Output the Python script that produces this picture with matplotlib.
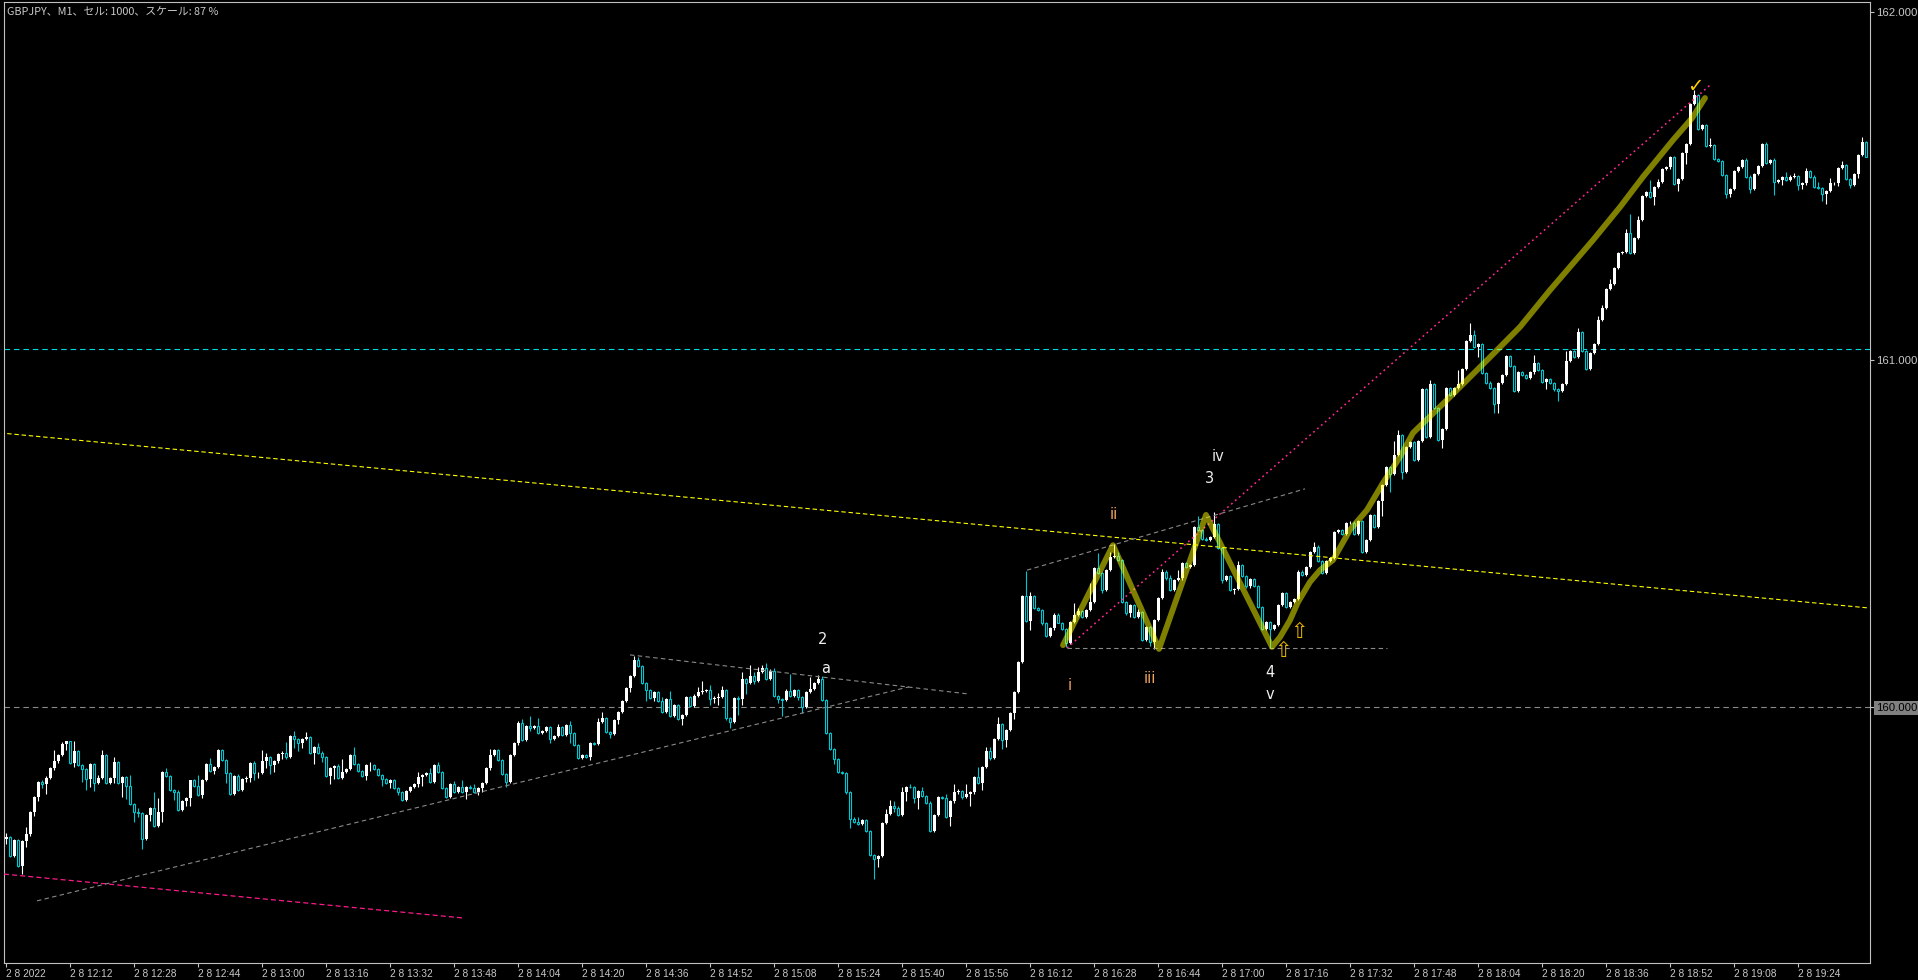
#!/usr/bin/env python3
"""
GBPJPY M1 chart with wave markup, redrawn from an MT4 screenshot.
"""
import matplotlib

matplotlib.use("Agg")
import matplotlib.pyplot as plt
import numpy as np

# close of every M1 bar, first bar 11:56
close = [
    159.625, 159.572, 159.616, 159.543, 159.614, 159.633, 159.697, 159.740, 159.784, 159.778,
    159.797, 159.823, 159.845, 159.862, 159.894, 159.901, 159.838, 159.873, 159.832, 159.821,
    159.793, 159.835, 159.780, 159.796, 159.862, 159.782, 159.795, 159.842, 159.780, 159.799,
    159.773, 159.721, 159.699, 159.694, 159.619, 159.689, 159.710, 159.658, 159.699, 159.813,
    159.802, 159.761, 159.754, 159.704, 159.730, 159.737, 159.789, 159.774, 159.747, 159.790,
    159.837, 159.817, 159.827, 159.876, 159.847, 159.809, 159.751, 159.801, 159.761, 159.793,
    159.797, 159.838, 159.809, 159.811, 159.845, 159.857, 159.833, 159.845, 159.865, 159.869,
    159.857, 159.917, 159.907, 159.897, 159.907, 159.914, 159.867, 159.885, 159.869, 159.857,
    159.801, 159.824, 159.830, 159.797, 159.814, 159.822, 159.862, 159.835, 159.817, 159.802,
    159.833, 159.834, 159.822, 159.805, 159.792, 159.782, 159.790, 159.768, 159.756, 159.732,
    159.757, 159.769, 159.778, 159.798, 159.803, 159.809, 159.783, 159.833, 159.814, 159.766,
    159.742, 159.778, 159.756, 159.769, 159.756, 159.771, 159.768, 159.756, 159.766, 159.780,
    159.823, 159.862, 159.876, 159.847, 159.808, 159.785, 159.863, 159.895, 159.954, 159.905,
    159.944, 159.941, 159.946, 159.925, 159.932, 159.942, 159.907, 159.917, 159.942, 159.920,
    159.949, 159.925, 159.890, 159.852, 159.861, 159.856, 159.895, 159.893, 159.958, 159.967,
    159.929, 159.923, 159.963, 159.985, 160.016, 160.056, 160.088, 160.136, 160.119, 160.070,
    160.049, 160.026, 160.043, 160.016, 159.985, 160.022, 159.975, 160.007, 159.965, 159.978,
    160.030, 160.002, 160.032, 160.044, 160.047, 160.048, 160.022, 160.025, 160.028, 160.048,
    159.968, 159.958, 160.025, 160.022, 160.080, 160.070, 160.090, 160.075, 160.102, 160.111,
    160.080, 160.105, 160.032, 160.022, 160.020, 160.046, 160.032, 160.048, 160.030, 160.000,
    160.043, 160.053, 160.069, 160.082, 160.020, 159.925, 159.878, 159.849, 159.813, 159.810,
    159.754, 159.679, 159.669, 159.664, 159.676, 159.644, 159.574, 159.563, 159.572, 159.667,
    159.691, 159.715, 159.708, 159.689, 159.754, 159.771, 159.769, 159.738, 159.759, 159.745,
    159.725, 159.642, 159.688, 159.740, 159.739, 159.683, 159.728, 159.754, 159.759, 159.740,
    159.749, 159.754, 159.798, 159.780, 159.827, 159.874, 159.852, 159.907, 159.952, 159.905,
    159.934, 159.983, 160.044, 160.129, 160.320, 160.248, 160.320, 160.284, 160.279, 160.241,
    160.204, 160.226, 160.265, 160.243, 160.224, 160.183, 160.245, 160.265, 160.276, 160.260,
    160.279, 160.301, 160.399, 160.385, 160.337, 160.394, 160.433, 160.435, 160.423, 160.303,
    160.270, 160.294, 160.260, 160.274, 160.193, 160.229, 160.188, 160.250, 160.313, 160.390,
    160.370, 160.337, 160.366, 160.370, 160.414, 160.404, 160.409, 160.519, 160.509, 160.485,
    160.482, 160.490, 160.526, 160.457, 160.366, 160.376, 160.337, 160.339, 160.409, 160.376,
    160.347, 160.368, 160.349, 160.289, 160.224, 160.245, 160.224, 160.236, 160.294, 160.327,
    160.289, 160.303, 160.310, 160.390, 160.380, 160.404, 160.447, 160.462, 160.419, 160.385,
    160.419, 160.428, 160.505, 160.510, 160.498, 160.529, 160.531, 160.498, 160.534, 160.447,
    160.482, 160.553, 160.519, 160.594, 160.639, 160.690, 160.670, 160.725, 160.783, 160.677,
    160.749, 160.764, 160.711, 160.767, 160.914, 160.778, 160.930, 160.860, 160.770, 160.799,
    160.917, 160.898, 160.917, 160.930, 160.973, 161.054, 161.071, 161.037, 161.044, 160.962,
    160.934, 160.917, 160.872, 160.932, 160.956, 161.010, 160.982, 160.911, 160.965, 160.956,
    160.948, 160.963, 160.989, 160.970, 160.936, 160.943, 160.932, 160.914, 160.911, 160.930,
    160.996, 161.026, 161.008, 161.080, 161.026, 160.974, 161.020, 161.045, 161.114, 161.148,
    161.202, 161.218, 161.265, 161.306, 161.310, 161.365, 161.308, 161.349, 161.402, 161.471,
    161.483, 161.469, 161.498, 161.510, 161.548, 161.553, 161.582, 161.505, 161.520, 161.594,
    161.621, 161.735, 161.762, 161.663, 161.675, 161.615, 161.618, 161.577, 161.573, 161.531,
    161.477, 161.490, 161.544, 161.555, 161.575, 161.527, 161.490, 161.533, 161.557, 161.620,
    161.567, 161.575, 161.512, 161.517, 161.525, 161.517, 161.527, 161.528, 161.503, 161.507,
    161.544, 161.527, 161.496, 161.493, 161.477, 161.486, 161.507, 161.509, 161.551, 161.560,
    161.519, 161.503, 161.534, 161.589, 161.627, 161.584,
]
open_first = 159.619

# wick length above / below the body, in points (0.001)
wick_up = [
    12, 3, 3, 3, 3, 23, 3, 3, 3, 6,
    3, 3, 30, 3, 4, 2, 2, 30, 2, 3,
    3, 3, 3, 9, 13, 2, 3, 14, 3, 3,
    3, 31, 3, 11, 3, 3, 3, 46, 40, 2,
    11, 3, 3, 7, 3, 3, 2, 3, 30, 3,
    3, 17, 3, 3, 3, 3, 3, 3, 6, 3,
    3, 3, 8, 3, 30, 10, 3, 3, 3, 3,
    31, 3, 13, 3, 3, 15, 3, 3, 11, 3,
    3, 3, 3, 6, 37, 3, 3, 22, 3, 3,
    3, 9, 3, 3, 3, 3, 3, 3, 3, 3,
    3, 3, 3, 15, 3, 3, 14, 3, 8, 3,
    3, 3, 8, 3, 20, 3, 5, 10, 3, 3,
    3, 17, 3, 3, 3, 3, 3, 3, 5, 12,
    3, 31, 3, 22, 3, 3, 3, 3, 8, 3,
    3, 10, 3, 3, 3, 3, 3, 3, 10, 19,
    3, 3, 3, 3, 3, 3, 3, 10, 8, 3,
    3, 3, 3, 3, 12, 3, 25, 3, 3, 3,
    3, 3, 5, 15, 29, 3, 14, 6, 12, 13,
    3, 3, 3, 7, 20, 3, 32, 12, 13, 10,
    16, 3, 7, 3, 3, 7, 48, 3, 3, 3,
    3, 33, 3, 10, 8, 3, 3, 3, 3, 3,
    3, 3, 3, 14, 3, 3, 3, 3, 3, 3,
    15, 18, 13, 7, 15, 3, 7, 3, 3, 12,
    3, 3, 3, 3, 3, 12, 3, 25, 5, 3,
    30, 3, 3, 30, 3, 10, 10, 3, 20, 3,
    3, 3, 3, 3, 3, 72, 10, 3, 3, 3,
    3, 3, 7, 7, 3, 3, 3, 35, 8, 3,
    3, 57, 5, 43, 3, 3, 12, 33, 10, 3,
    3, 3, 3, 8, 3, 3, 3, 3, 3, 8,
    3, 10, 3, 25, 3, 3, 3, 3, 31, 3,
    3, 3, 36, 3, 3, 3, 3, 3, 12, 3,
    3, 3, 3, 3, 3, 3, 3, 3, 3, 3,
    3, 3, 3, 3, 3, 3, 3, 12, 3, 3,
    3, 3, 3, 3, 3, 3, 3, 3, 3, 3,
    3, 3, 3, 3, 3, 3, 3, 40, 15, 3,
    3, 3, 3, 3, 3, 3, 10, 3, 3, 3,
    5, 3, 3, 40, 3, 3, 35, 15, 3, 3,
    3, 3, 3, 3, 3, 3, 3, 3, 3, 3,
    3, 3, 25, 3, 3, 3, 3, 3, 3, 3,
    30, 3, 3, 10, 3, 3, 3, 3, 12, 10,
    3, 15, 3, 3, 3, 10, 55, 3, 10, 3,
    3, 35, 3, 10, 3, 3, 3, 3, 3, 3,
    3, 3, 15, 3, 3, 3, 20, 3, 3, 3,
    3, 3, 3, 3, 3, 5, 3, 3, 3, 3,
    5, 3, 5, 3, 3, 15, 3, 10, 3, 3,
    8, 3, 3, 15, 3, 3, 15, 3, 3, 12,
    3, 3, 3, 3, 15, 3,
]
wick_dn = [
    12, 3, 3, 3, 23, 18, 3, 10, 12, 10,
    29, 3, 3, 6, 3, 19, 3, 10, 3, 37,
    33, 22, 22, 3, 3, 3, 3, 14, 3, 38,
    39, 3, 30, 11, 27, 3, 17, 3, 3, 29,
    3, 3, 21, 3, 3, 15, 21, 3, 3, 8,
    3, 3, 10, 3, 3, 28, 3, 3, 3, 3,
    8, 13, 20, 12, 3, 22, 27, 20, 5, 15,
    6, 3, 25, 23, 14, 3, 3, 30, 3, 15,
    3, 23, 32, 3, 3, 3, 3, 3, 3, 3,
    11, 18, 3, 3, 20, 3, 14, 3, 10, 3,
    3, 3, 3, 9, 26, 3, 3, 3, 3, 3,
    3, 3, 3, 3, 3, 20, 5, 3, 10, 12,
    3, 3, 3, 3, 3, 14, 3, 3, 3, 3,
    3, 10, 3, 3, 3, 3, 10, 3, 3, 3,
    3, 30, 3, 3, 3, 3, 8, 3, 3, 3,
    3, 12, 3, 12, 3, 3, 14, 3, 3, 3,
    33, 3, 10, 3, 3, 3, 3, 3, 3, 17,
    3, 3, 3, 3, 6, 3, 15, 11, 19, 3,
    5, 19, 3, 45, 17, 32, 3, 10, 3, 3,
    3, 3, 3, 10, 46, 3, 3, 3, 10, 18,
    3, 3, 3, 3, 3, 3, 3, 12, 3, 3,
    3, 28, 3, 4, 3, 3, 3, 58, 23, 3,
    3, 3, 10, 3, 3, 25, 3, 13, 33, 3,
    5, 3, 3, 3, 3, 3, 25, 3, 3, 5,
    3, 35, 3, 3, 18, 3, 5, 3, 3, 25,
    20, 3, 18, 3, 3, 3, 25, 3, 3, 5,
    2, 3, 3, 2, 3, 10, 3, 3, 3, 5,
    3, 3, 3, 3, 8, 3, 3, 3, 3, 3,
    5, 10, 5, 3, 3, 3, 13, 20, 3, 3,
    3, 3, 3, 3, 3, 3, 3, 3, 3, 3,
    3, 3, 3, 3, 10, 3, 3, 12, 3, 3,
    3, 3, 3, 5, 3, 3, 55, 3, 3, 3,
    3, 3, 3, 3, 3, 3, 3, 3, 3, 3,
    3, 3, 3, 3, 3, 3, 3, 3, 3, 3,
    3, 3, 3, 3, 45, 3, 52, 3, 3, 20,
    3, 3, 3, 3, 3, 3, 3, 3, 3, 25,
    3, 3, 3, 3, 3, 3, 3, 3, 30, 3,
    3, 3, 25, 26, 3, 3, 3, 3, 3, 3,
    3, 3, 3, 3, 3, 20, 3, 3, 30, 3,
    3, 3, 3, 3, 3, 3, 3, 3, 3, 3,
    3, 3, 3, 3, 3, 3, 3, 3, 3, 3,
    3, 3, 25, 3, 3, 3, 3, 3, 20, 3,
    30, 3, 3, 3, 3, 3, 3, 3, 3, 3,
    12, 10, 3, 3, 3, 3, 10, 3, 3, 3,
    3, 3, 38, 3, 15, 3, 3, 3, 15, 12,
    3, 3, 3, 3, 20, 28, 3, 3, 10, 3,
    3, 8, 3, 10, 3, 2,
]

xtick_bars = list(range(0, 449, 16))
xtick_labels = [
    "2 8 2022", "2 8 12:12", "2 8 12:28", "2 8 12:44", "2 8 13:00", "2 8 13:16",
    "2 8 13:32", "2 8 13:48", "2 8 14:04", "2 8 14:20", "2 8 14:36", "2 8 14:52",
    "2 8 15:08", "2 8 15:24", "2 8 15:40", "2 8 15:56", "2 8 16:12", "2 8 16:28",
    "2 8 16:44", "2 8 17:00", "2 8 17:16", "2 8 17:32", "2 8 17:48", "2 8 18:04",
    "2 8 18:20", "2 8 18:36", "2 8 18:52", "2 8 19:08", "2 8 19:24",
]
ytick_prices = [160.0, 161.0, 162.0]

# chart objects, anchored as (bar, price)
trend_yellow = [(-1.5, 160.789), (465.75, 160.285)]
trend_pink_low = [(-0.5, 159.519), (114.0, 159.393)]
tri_lower = [(7.75, 159.442), (225.75, 160.058)]
tri_upper = [(156.0, 160.150), (241.0, 160.037)]
chan_upper = [(255.25, 160.394), (324.75, 160.628)]
support = [(265.25, 160.170), (345.25, 160.170)]
pink_rise = [(265.25, 160.170), (426.0, 161.790)]
hline_cyan = 161.03
hline_gray = 160.0
wave_path = [
    (264.25, 160.178), (276.75, 160.466), (288.25, 160.167), (300.0, 160.553),
    (316.5, 160.173), (318.5, 160.201), (321.0, 160.250), (323.0, 160.302),
    (326.0, 160.360), (328.5, 160.394), (331.75, 160.423), (336.0, 160.510),
    (340.25, 160.567), (344.25, 160.645), (348.5, 160.720), (351.75, 160.789),
    (360.25, 160.884), (371.0, 161.007), (378.5, 161.094), (386.0, 161.200),
    (396.75, 161.344), (403.5, 161.439), (409.25, 161.526), (416.75, 161.632),
    (421.5, 161.695), (424.75, 161.753),
]
wave_labels = [
    ("2", 204.25, 160.193, "#f0f0f0"), ("a", 205.0, 160.112, "#f0f0f0"),
    ("i", 266.0, 160.063, "#f4a460"), ("ii", 277.0, 160.553, "#f4a460"),
    ("iii", 286.0, 160.081, "#f4a460"), ("iv", 303.0, 160.720, "#e8e8e8"),
    ("3", 301.0, 160.659, "#f0f0f0"), ("4", 316.0, 160.098, "#f0f0f0"),
    ("v", 316.0, 160.035, "#f0f0f0"),
]
buy_arrows = [(319.25, 160.160), (323.25, 160.217)]
check_mark = (422.25, 161.785)

BEAR = "#00c8d2"
AXIS = "#c0c0c0"
W, H = 1918, 980

assert len(close) == len(wick_up) == len(wick_dn)

fig = plt.figure(figsize=(W / 100, H / 100), dpi=100, facecolor="black")
ax = fig.add_axes([4 / W, 17 / H, 1866 / W, 961 / H])
ax.set_facecolor("black")

x = np.arange(len(close))
c = np.array(close)
o = np.r_[open_first, c[:-1]]
hi = np.maximum(o, c) + np.array(wick_up) / 1000
lo = np.minimum(o, c) - np.array(wick_dn) / 1000
bull = c >= o
body_lo = np.minimum(o, c)
body_h = np.maximum(np.abs(c - o), 0.0008)

ax.vlines(x[bull], lo[bull], hi[bull], color="white", lw=0.8, zorder=2)
ax.vlines(x[~bull], lo[~bull], hi[~bull], color=BEAR, lw=0.8, zorder=2)
ax.bar(x[bull], body_h[bull], bottom=body_lo[bull], width=0.75,
       color="white", lw=0, zorder=3)
ax.bar(x[~bull], body_h[~bull], bottom=body_lo[~bull], width=0.55,
       facecolor="black", edgecolor=BEAR, lw=0.8, zorder=3)

# horizontal lines
ax.axhline(hline_gray, color="#8a8a8a", lw=0.8, ls=(0, (5, 3.5)), zorder=1)
ax.axhline(hline_cyan, color="#00d8e0", lw=0.8, ls=(0, (5, 3.5)), zorder=1)


def seg(pts, **kw):
    xs, ys = zip(*pts)
    ax.plot(xs, ys, **kw)


seg(trend_yellow, color="#ffff00", lw=0.8, ls=(0, (4, 2.5)), zorder=4)
seg(trend_pink_low, color="#ff1a8c", lw=0.9, ls=(0, (4, 2.5)), zorder=4)
for pts in (tri_lower, tri_upper, chan_upper, support):
    seg(pts, color="#8a8a8a", lw=0.8, ls=(0, (4, 3)), zorder=4)
seg(pink_rise, color="#ff2a90", lw=1.1, ls=(0, (1.2, 2.2)), zorder=4)

# wave drawing
seg(wave_path, color="#ffff00", alpha=0.5, lw=4.2, solid_joinstyle="round",
    solid_capstyle="round", zorder=5)

for txt, bx, py, col in wave_labels:
    ax.text(bx, py, txt, color=col, fontsize=10.5, ha="center", va="center",
            family="DejaVu Sans", zorder=6)
for bx, py in buy_arrows:
    ax.text(bx, py, "\u21e7", color="#e6b400", fontsize=15, ha="center",
            va="center", family="DejaVu Sans", zorder=6)
ax.text(check_mark[0], check_mark[1], "\u2713", color="#ffd000", fontsize=14,
        fontweight="bold", ha="center", va="center", family="DejaVu Sans",
        zorder=6)

ax.set_xlim(-0.5, 466)
ax.set_ylim(159.2631, 162.0294)

for side in ("left", "right", "top", "bottom"):
    ax.spines[side].set_color(AXIS)
    ax.spines[side].set_linewidth(0.8)

ax.yaxis.tick_right()
ax.set_yticks(ytick_prices)
ax.set_yticklabels([f"{p:.3f}" for p in ytick_prices], family="Liberation Sans")
ax.tick_params(axis="y", length=3, width=0.8, color=AXIS, labelcolor="#c8c8c8",
               labelsize=8.2, pad=1.5)
for lbl in ax.get_yticklabels():
    if lbl.get_text() == "160.000":
        lbl.set_color("black")
        lbl.set_bbox(dict(facecolor="#808080", edgecolor="none", pad=1.5))

ax.set_xticks(xtick_bars)
ax.set_xticklabels(xtick_labels, ha="left", family="Liberation Sans")
ax.tick_params(axis="x", length=3, width=0.8, color=AXIS, labelcolor="#c8c8c8",
               labelsize=7.3, pad=1.5)

fig.text(7 / W, 1 - 12 / H, "GBPJPY、M1、セル: 1000、スケール: 87 %",
         family=["Noto Sans CJK JP", "DejaVu Sans"], fontsize=7.8,
         color="#c8c8c8", ha="left", va="center")

fig.savefig("out.png", dpi=100, facecolor="black")
